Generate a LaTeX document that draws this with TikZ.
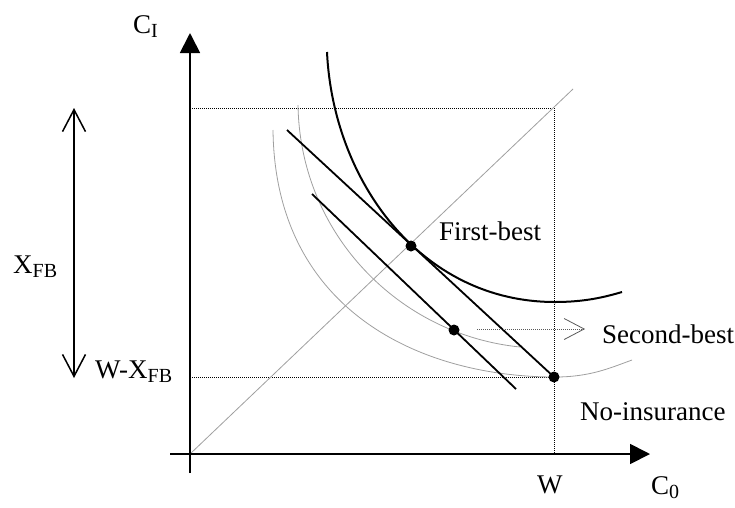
\documentclass[tikz,border=0pt]{standalone}
\usepackage{fontspec}
\setmainfont{Liberation Serif}
\usetikzlibrary{arrows.meta}
\newcommand\mysub[1]{\raisebox{-4pt}{\fontsize{20}{20}\selectfont #1}}
\tikzset{barbtip/.tip={Straight Barb[length=22pt,width=23pt]}}
\begin{document}
\begin{tikzpicture}[x=1pt,y=-1pt,
  lbl/.style={font=\fontsize{27}{27}\selectfont, inner sep=0pt, anchor=base west},
  axis/.style={line width=1.8pt, -{Triangle[length=20pt,width=20pt]}},
  guide/.style={line width=0.6pt, dash pattern=on 1pt off 1pt},
  budget/.style={line width=1.8pt},
  indiff/.style={line width=2pt},
  faint/.style={line width=0.8pt, gray!75},
  dot/.style={circle, fill=black, inner sep=0pt, minimum size=11pt}]
\useasboundingbox (0,0) rectangle (735,507);
% coordinates
\coordinate (ybot) at (190,473);
\coordinate (ytop) at (190,33);
\coordinate (xleft) at (170,454);
\coordinate (xright) at (650,454);
\coordinate (O) at (190,454);
\coordinate (TL) at (190,108);
\coordinate (TR) at (554,108);
\coordinate (WB) at (554,454);
\coordinate (WX) at (190,377);
\coordinate (Dend) at (573,89);
\coordinate (B1s) at (287,130);
\coordinate (B2s) at (312,194);
\coordinate (B2e) at (516,389);
\coordinate (Atop) at (74,108);
\coordinate (Abot) at (74,378);
\coordinate (SBs) at (477,329);
\coordinate (SBe) at (585,329);
% guides
\draw[guide] (TL) -- (TR) -- (WB);
\draw[guide] (WX) -- (554,377);
\draw[faint] (O) -- (Dend);
% faint indifference curves
\draw[faint] (298,105) .. controls (300,235) and (400,335) .. (520,347);
\draw[faint] (273,130) .. controls (275,310) and (420,377) .. (555,377)
                       .. controls (590,377) and (610,368) .. (632,360);
% thick indifference curve
\draw[indiff] (327,52) .. controls (333,180) and (420,302) .. (555,302)
                       .. controls (585,302) and (605,297) .. (622,292);
% axes
\draw[axis] (ybot) -- (ytop);
\draw[axis] (xleft) -- (xright);
% points
\node[dot] (NI) at (554,377) {};
\node[dot] (FB) at (411,246) {};
\node[dot] (SB) at (454,330) {};
% budget lines
\draw[budget] (B1s) -- (NI.center);
\draw[budget] (B2s) -- (B2e);
% double arrow
\draw[line width=1.5pt, barbtip-barbtip] (Atop) -- (Abot);
% second-best arrow
\draw[guide, gray!70!black, -{Straight Barb[length=20pt,width=21pt,line width=0.8pt]}] (SBs) -- (SBe);
% labels
\node[lbl] (lCI) at (133,33) {C\mysub{I}};
\node[lbl] (lX) at (13,273) {X\mysub{FB}};
\node[lbl] (lWX) at (95,378) {W-X\mysub{FB}};
\node[lbl] (lFB) at (439,240) {First-best};
\node[lbl] (lSB) at (602,343) {Second-best};
\node[lbl] (lNI) at (580,420) {No-insurance};
\node[lbl] (lW) at (537,493) {W};
\node[lbl] (lC0) at (651,494) {C\mysub{0}};
\end{tikzpicture}
\end{document}
